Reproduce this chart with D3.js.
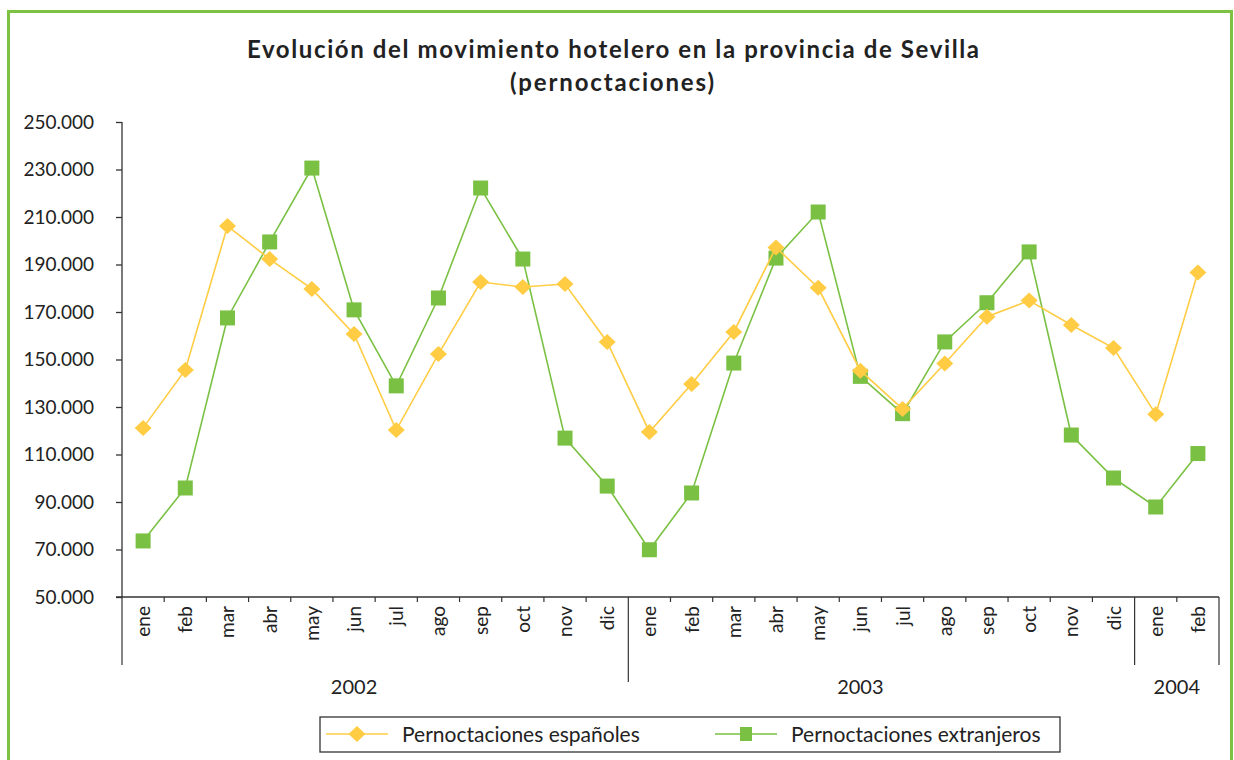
<!DOCTYPE html>
<html>
<head>
<meta charset="utf-8">
<script src="https://cdn.jsdelivr.net/npm/d3@7/dist/d3.min.js"></script>
<style>
  html, body { margin: 0; padding: 0; background: #fff; }
  svg { display: block; font-family: Lato, "Open Sans", sans-serif; }
</style>
</head>
<body>
<svg id="chart" width="1234" height="760"></svg>
<script>
const titleLines = ["Evolución del movimiento hotelero en la provincia de Sevilla", "(pernoctaciones)"];
const months = ["ene","feb","mar","abr","may","jun","jul","ago","sep","oct","nov","dic",
                "ene","feb","mar","abr","may","jun","jul","ago","sep","oct","nov","dic",
                "ene","feb"];
const years = [
  {label: "2002", start: 0, end: 12},
  {label: "2003", start: 12, end: 24},
  {label: "2004", start: 24, end: 26}
];
const espanoles = [121200,145600,206200,192300,179700,160700,120300,152300,182600,180500,181800,157400,
                   119500,139700,161600,197200,180200,145300,129200,148300,168000,174800,164500,154800,
                   127000,186600];
const extranjeros = [73600,95900,167500,199500,230600,170900,138900,175900,222200,192300,116900,96700,
                     69900,93800,148500,192700,212100,142900,127200,157400,173900,195300,118200,100100,
                     87900,110400];
const yTicks = [50000,70000,90000,110000,130000,150000,170000,190000,210000,230000,250000];
const seriesNames = ["Pernoctaciones españoles", "Pernoctaciones extranjeros"];

const YELLOW = "#ffcc44", GREEN = "#7ac143", AXIS = "#333", TXT = "#222";
const svg = d3.select("#chart");

// outer green frame
svg.append("path").attr("d", "M8.5,770 V11.5 H1231.5 V770")
  .attr("fill", "none").attr("stroke", "#7dc242").attr("stroke-width", 3);

// title
svg.append("text").attr("x", 613).attr("y", 58).attr("text-anchor", "middle")
  .attr("font-size", 24).attr("font-weight", "bold").attr("fill", TXT)
  .attr("textLength", 732).attr("lengthAdjust", "spacing").text(titleLines[0]);
svg.append("text").attr("x", 612).attr("y", 91).attr("text-anchor", "middle")
  .attr("font-size", 24).attr("font-weight", "bold").attr("fill", TXT)
  .attr("textLength", 204).attr("lengthAdjust", "spacing").text(titleLines[1]);

const pL = 122, pR = 1219, pT = 122, pB = 597;
const idx = d3.range(months.length);
const x = d3.scaleBand().domain(idx).range([pL, pR]).padding(0);
const y = d3.scaleLinear().domain([50000, 250000]).range([pB, pT]);
const fmt = d => d3.format(",.0f")(d).replace(/,/g, ".");
const cx = i => x(i) + x.bandwidth() / 2;

// y axis
const yAxis = svg.append("g").attr("transform", `translate(${pL},0)`)
  .call(d3.axisLeft(y).tickValues(yTicks).tickFormat(fmt).tickSize(6).tickPadding(22));
yAxis.select(".domain").attr("stroke", AXIS).attr("stroke-width", 1.3).attr("d", `M0,${pT}V${pB}`);
yAxis.selectAll(".tick line").attr("stroke", AXIS).attr("stroke-width", 1.3);
yAxis.selectAll(".tick text").attr("font-size", 19).attr("fill", TXT).attr("font-family", "Lato, sans-serif");

// x axis line
svg.append("line").attr("x1", pL - 6).attr("x2", pR).attr("y1", pB).attr("y2", pB)
  .attr("stroke", AXIS).attr("stroke-width", 1.3);

// month tick marks at band boundaries
const boundaries = d3.range(1, months.length);
svg.append("g").selectAll("line").data(boundaries.filter(i => !years.some(yr => yr.start === i)))
  .join("line")
  .attr("x1", i => x(i)).attr("x2", i => x(i))
  .attr("y1", pB).attr("y2", pB + 5)
  .attr("stroke", AXIS).attr("stroke-width", 1.2);

// year dividers and labels
const dividerEnd = {0: 665, 12: 682, 24: 665};
years.forEach(yr => {
  svg.append("line").attr("x1", x(yr.start)).attr("x2", x(yr.start))
    .attr("y1", pB).attr("y2", dividerEnd[yr.start])
    .attr("stroke", AXIS).attr("stroke-width", 1.2);
  const n = yr.end - yr.start;
  const xc = n > 2 ? cx(yr.start + n / 2 - 1) : (x(yr.start) + pR) / 2;
  svg.append("text").attr("x", xc).attr("y", 694).attr("text-anchor", "middle")
    .attr("font-size", 20).attr("fill", TXT).text(yr.label);
});
svg.append("line").attr("x1", pR).attr("x2", pR).attr("y1", pB).attr("y2", 665)
  .attr("stroke", AXIS).attr("stroke-width", 1.2);

// month labels rotated
svg.append("g").selectAll("text").data(idx).join("text")
  .attr("transform", i => `translate(${cx(i) + 7},${pB + 9}) rotate(-90)`)
  .attr("text-anchor", "end")
  .attr("font-size", 19).attr("fill", TXT)
  .text(i => months[i]);

// markers
const rhombus = {draw(ctx, size) {
  const w = 8.5, h = 8;
  ctx.moveTo(0, -h); ctx.lineTo(w, 0); ctx.lineTo(0, h); ctx.lineTo(-w, 0); ctx.closePath();
}};
const diamond = d3.symbol().type(rhombus);
const line = d3.line().x((d, i) => cx(i)).y(d => y(d));

function drawSeries(data, color, kind) {
  svg.append("path").datum(data).attr("d", line)
    .attr("fill", "none").attr("stroke", color).attr("stroke-width", 1.6);
  const g = svg.append("g");
  if (kind === "square") {
    g.selectAll("rect").data(data).join("rect")
      .attr("x", (d, i) => cx(i) - 7.5)
      .attr("y", d => y(d) - 7.5)
      .attr("width", 15).attr("height", 15).attr("fill", color);
  } else {
    g.selectAll("path").data(data).join("path")
      .attr("transform", (d, i) => `translate(${cx(i)},${y(d)})`)
      .attr("d", diamond).attr("fill", color);
  }
}
drawSeries(extranjeros, GREEN, "square");
drawSeries(espanoles, YELLOW, "diamond");

// legend
const lg = svg.append("g");
lg.append("rect").attr("x", 320).attr("y", 717).attr("width", 740).attr("height", 35)
  .attr("fill", "#fff").attr("stroke", AXIS).attr("stroke-width", 1.3);
const items = [
  {name: seriesNames[0], color: YELLOW, kind: "diamond", x0: 326},
  {name: seriesNames[1], color: GREEN, kind: "square", x0: 715}
];
items.forEach(it => {
  lg.append("line").attr("x1", it.x0).attr("x2", it.x0 + 62).attr("y1", 734).attr("y2", 734)
    .attr("stroke", it.color).attr("stroke-width", 1.6);
  const mx = it.x0 + 31;
  if (it.kind === "diamond") {
    lg.append("path").attr("d", diamond).attr("transform", `translate(${mx},734)`).attr("fill", it.color);
  } else {
    lg.append("rect").attr("x", mx - 6).attr("y", 727).attr("width", 12).attr("height", 14).attr("fill", it.color);
  }
  lg.append("text").attr("x", it.x0 + 76).attr("y", 742).attr("font-size", 21).attr("fill", TXT).text(it.name);
});
</script>
</body>
</html>
